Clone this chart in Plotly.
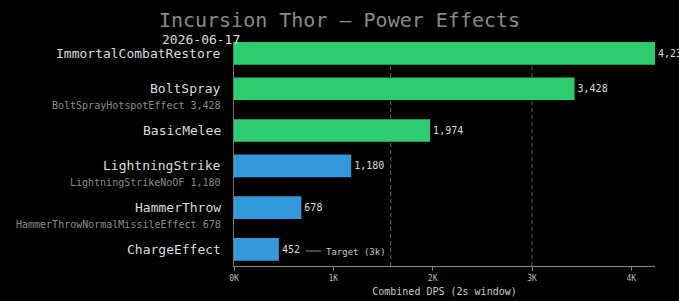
import plotly.graph_objects as go

# ---- data ----
effects = ["ImmortalCombatRestore", "BoltSpray", "BasicMelee",
           "LightningStrike", "HammerThrow", "ChargeEffect"]
dps = [4238, 3428, 1974, 1180, 678, 452]
sublabels = ["", "BoltSprayHotspotEffect 3,428", "",
             "LightningStrikeNoOF 1,180", "HammerThrowNormalMissileEffect 678", ""]
bar_colors = ["#2ecc71", "#2ecc71", "#2ecc71", "#3498db", "#3498db", "#3498db"]
x_tickvals = [0, 1000, 2000, 3000, 4000]
x_ticktext = ["0K", "1K", "2K", "3K", "4K"]
TARGET = 3000
MEDIAN = 1577
TITLE = "Incursion Thor — Power Effects"
DATE = "2026-06-17"

FONT = "DejaVu Sans Mono"

# row positions: extra room below rows that carry a sublabel
pos = []
p = 0.0
for i, s in enumerate(sublabels):
    if i > 0:
        p += 1 + (0.183 if sublabels[i - 1] else 0)
    pos.append(p)

fig = go.Figure()
fig.add_trace(go.Bar(
    x=dps, y=pos, orientation="h", width=0.64,
    marker=dict(color=bar_colors, line=dict(width=0)),
    text=[f"{v:,}" for v in dps], textposition="outside",
    textfont=dict(family=FONT, size=10, color="#dddddd"),
    cliponaxis=False, showlegend=False, hoverinfo="skip",
))
# legend-only entry for the target line
fig.add_trace(go.Scatter(
    x=[None], y=[None], mode="lines", name="Target (3k)",
    line=dict(color="#2f5a38", width=2, dash="0px,15px,15px,100px"),
))

fig.add_shape(type="line", xref="x", yref="paper", x0=MEDIAN, x1=MEDIAN, y0=0, y1=1,
              line=dict(color="#666666", width=1, dash="4px,3px"), layer="below")
fig.add_shape(type="line", xref="x", yref="paper", x0=TARGET, x1=TARGET, y0=0, y1=1,
              line=dict(color="#56695a", width=1, dash="4px,3px"), layer="below")

# category labels and their sublabels
for yv, name, s in zip(pos, effects, sublabels):
    fig.add_annotation(xref="paper", yref="y", x=0, y=yv, xanchor="right",
                       yanchor="middle", xshift=-11, text=name, showarrow=False,
                       font=dict(family=FONT, size=13, color="#dddddd"))
    if s:
        fig.add_annotation(xref="paper", yref="y", x=0, y=yv, xanchor="right",
                           yanchor="middle", xshift=-11, yshift=-17, text=s,
                           showarrow=False,
                           font=dict(family=FONT, size=10, color="#8c8c8c"))

fig.add_annotation(xref="paper", yref="paper", x=(160 - 234) / 421, y=1,
                   xanchor="left", yanchor="bottom", yshift=-7, text=DATE,
                   showarrow=False, font=dict(family=FONT, size=13, color="#dddddd"))

fig.update_layout(
    width=679, height=301,
    paper_bgcolor="#000000", plot_bgcolor="#000000",
    margin=dict(l=234, r=24, t=42, b=35, autoexpand=False),
    font=dict(family=FONT, color="#cccccc"),
    title=dict(text=TITLE, x=0.5, xanchor="center", xref="container",
               y=1 - 20 / 301, yanchor="middle", yref="container",
               font=dict(family=FONT, size=20, color="#8a8a8a")),
    xaxis=dict(range=[0, max(dps)], tickvals=x_tickvals, ticktext=x_ticktext,
               automargin=False,
               showgrid=False, zeroline=False, showline=True, linecolor="#888888",
               linewidth=1, ticks="outside", ticklen=4, tickcolor="#888888",
               tickfont=dict(family=FONT, size=8, color="#bbbbbb"),
               title=dict(text="Combined DPS (2s window)", standoff=6,
                          font=dict(family=FONT, size=10, color="#cccccc"))),
    yaxis=dict(range=[pos[-1] + 0.47, -0.323], tickvals=pos, showticklabels=False,
               automargin=False,
               showgrid=False, zeroline=False, showline=True, linecolor="#777777",
               linewidth=1, ticks=""),
    legend=dict(x=(286 - 234) / 421, y=(266 - 251) / 224, xanchor="left",
                yanchor="middle", bgcolor="rgba(0,0,0,0)",
                font=dict(family=FONT, size=9, color="#cccccc")),
    showlegend=True,
)

fig.write_html("out.html")
